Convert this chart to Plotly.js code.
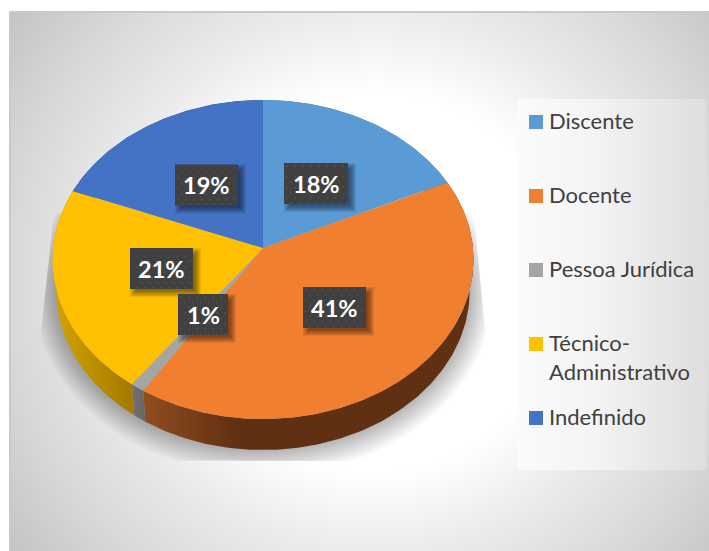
<!DOCTYPE html>
<html>
<head>
<meta charset="utf-8">
<script src="https://cdn.plot.ly/plotly-3.0.1.min.js"></script>
<style>
  html, body { margin: 0; padding: 0; background: #fff; width: 709px; height: 551px; overflow: hidden; }
  #frame {
    position: absolute; left: 9px; top: 11px; width: 700px; height: 540px; box-sizing: border-box;
    border-left: 2px solid #c9c9c9; border-top: 2px solid #c9c9c9;
    background: radial-gradient(circle farthest-corner at 52% 50%, #ffffff 42%, #ebebeb 60%, #d8d8d8 81%, #c4c4c4 100%);
  }
  #legendPanel {
    position: absolute; left: 517px; top: 99px; width: 189px; height: 371px;
    background: linear-gradient(to right, #fbfbfb 0%, #f4f4f4 40%, #dedede 100%);
  }
  #chart { position: absolute; left: 0; top: 0; width: 709px; height: 551px; }
</style>
</head>
<body>
<div id="frame"></div>
<div id="legendPanel"></div>
<div id="chart"></div>
<script>
// Share of each group, in percent, clockwise from twelve o'clock
const categories = ['Discente', 'Docente', 'Pessoa Jurídica', 'Técnico-Administrativo', 'Indefinido'];
const shares = [18, 41, 1, 21, 19];
const legendLabels = ['Discente', 'Docente', 'Pessoa Jurídica', 'Técnico-<br>Administrativo', 'Indefinido'];
const topColors = ['#5B9BD5', '#F07F30', '#A5A5A5', '#FFC000', '#4472C4'];
const wallColors = [
  ['#3c6d99', '#3c6d99'],
  ['#8f4c1f', '#5f3012'],
  ['#727272', '#666666'],
  ['#d0a000', '#a47a00'],
  ['#2f5090', '#2f5090']
];
const wallStops = [[0, 709], [146, 240], [130, 146], [60, 132], [0, 709]];

// Disc geometry in a perspective view, in plot units (one unit is one pixel)
const disc = { cx: 263, cy: 248, rx: 210, ry: 158.7, persp: 0.0721, depth: 31, taper: 0.018 };

// Projects a point of the disc: angle in degrees, level 0 = top face, 1 = bottom
function project(deg, level, grow) {
  const th = deg * Math.PI / 180, extra = grow || 0;
  const u = Math.sin(th), t = -Math.cos(th), w = 1 - disc.persp * t;
  return [
    disc.cx + (disc.rx + extra) * u / w * (1 - disc.taper * level),
    disc.cy + (disc.ry + extra) * t / w + disc.depth * level
  ];
}
function arc(a0, a1, level, grow) {
  const pts = [], n = Math.max(2, Math.ceil(Math.abs(a1 - a0)));
  for (let i = 0; i <= n; i++) pts.push(project(a0 + (a1 - a0) * i / n, level, grow));
  return pts;
}
const toXY = pts => ({ x: pts.map(p => p[0]), y: pts.map(p => p[1]) });

const total = shares.reduce((a, b) => a + b, 0);
let running = 0;
const spans = shares.map(v => {
  const s = [running / total * 360, (running + v) / total * 360];
  running += v;
  return s;
});

const traces = [];

// Soft cast shadow, clipped to a trapezoid around the lower part of the disc
function clipShadow(p) {
  const y = Math.min(461, Math.max(213, p[1]));
  const left = 52 - (y - 225) * 14 / 135, right = 474 + (y - 213) * 14 / 144;
  return [Math.min(right, Math.max(left, p[0])), y];
}
for (let d = 24; d >= 1; d -= 1) {
  traces.push(Object.assign(toXY(arc(0, 360, 1, d).map(clipShadow)), {
    type: 'scatter', mode: 'lines', fill: 'toself', line: { width: 0 },
    fillcolor: 'rgba(0,0,0,0.0125)', hoverinfo: 'skip', showlegend: false
  }));
}

// Side walls, then the top face of every slice
spans.forEach((s, i) => {
  const pts = arc(s[0], s[1], 0).concat(arc(s[1], s[0], 1));
  traces.push(Object.assign(toXY(pts), {
    type: 'scatter', mode: 'lines', fill: 'toself', line: { width: 0 },
    fillgradient: {
      type: 'horizontal', start: wallStops[i][0], stop: wallStops[i][1],
      colorscale: [[0, wallColors[i][0]], [1, wallColors[i][1]]]
    },
    hoverinfo: 'skip', showlegend: false
  }));
});
spans.forEach((s, i) => {
  const pts = [[disc.cx, disc.cy]].concat(arc(s[0], s[1], 0));
  pts.push([disc.cx, disc.cy]);
  traces.push(Object.assign(toXY(pts), {
    type: 'scatter', mode: 'lines', fill: 'toself', line: { width: 0 },
    fillcolor: topColors[i], name: categories[i], text: shares[i] + '%',
    hoverinfo: 'name+text', showlegend: false
  }));
});

// Percentage plates: centre and size of each dark box
const plateCentres = [[316, 183.5], [334.5, 307.5], [203, 314.5], [161.5, 268.5], [206.5, 185]];
const plateWidths = [64, 63, 50, 63, 63];
const plateHeight = 41;
function rects(grow, dx, dy) {
  const x = [], y = [];
  plateCentres.forEach((c, i) => {
    const l = c[0] - plateWidths[i] / 2 - grow + dx, r = c[0] + plateWidths[i] / 2 + grow + dx;
    const t = c[1] - plateHeight / 2 - grow + dy, b = c[1] + plateHeight / 2 + grow + dy;
    x.push(l, r, r, l, l, null);
    y.push(t, t, b, b, t, null);
  });
  return { x, y };
}
for (let g = 4; g >= -2; g--) {
  traces.push(Object.assign(rects(g, 4, 4), {
    type: 'scatter', mode: 'lines', fill: 'toself', line: { width: 0 },
    fillcolor: 'rgba(0,0,0,0.08)', hoverinfo: 'skip', showlegend: false
  }));
}
traces.push(Object.assign(rects(0, 0, 0), {
  type: 'scatter', mode: 'lines', fill: 'toself', line: { width: 0 },
  fillcolor: '#404040', hoverinfo: 'skip', showlegend: false
}));

// Dotted texture on the plates
const dotX = [], dotY = [];
plateCentres.forEach((c, i) => {
  const l = c[0] - plateWidths[i] / 2, t = c[1] - plateHeight / 2;
  for (let row = 0; row * 5.3 + 3 < plateHeight; row++) {
    for (let col = 0; col * 8 + 3 + (row % 2) * 4 < plateWidths[i]; col++) {
      dotX.push(l + col * 8 + 3 + (row % 2) * 4);
      dotY.push(t + row * 5.3 + 3);
    }
  }
});
traces.push({
  type: 'scatter', mode: 'markers', x: dotX, y: dotY,
  marker: { size: 2, color: '#505050', line: { width: 0 } },
  hoverinfo: 'skip', showlegend: false
});

// Legend keys
const legendRows = [122, 196, 270, 344, 418];
traces.push({
  type: 'scatter', mode: 'markers', x: legendRows.map(() => 536), y: legendRows,
  marker: { symbol: 'square', size: 14, color: topColors, line: { width: 0 } },
  hoverinfo: 'skip', showlegend: false
});

const annotations = [];
plateCentres.forEach((c, i) => annotations.push({
  x: c[0], y: c[1], xref: 'x', yref: 'y', showarrow: false,
  text: shares[i] + '%', font: { family: 'Lato, sans-serif', size: 23.5, color: '#ffffff', weight: 700 }
}));
legendLabels.forEach((label, i) => annotations.push({
  x: 547, y: legendRows[i] - 2 + (i === 3 ? 15 : 0), xref: 'x', yref: 'y', showarrow: false,
  xanchor: 'left', yanchor: 'middle', align: 'left',
  text: label, font: { family: 'Lato, sans-serif', size: 22, color: '#404040' }
}));

Plotly.newPlot('chart', traces, {
  width: 709, height: 551,
  margin: { l: 0, r: 0, t: 0, b: 0 },
  paper_bgcolor: 'rgba(0,0,0,0)', plot_bgcolor: 'rgba(0,0,0,0)',
  xaxis: { range: [0, 709], visible: false, fixedrange: true },
  yaxis: { range: [551, 0], visible: false, fixedrange: true },
  showlegend: false,
  annotations: annotations
}, { displayModeBar: false, responsive: false });
</script>
</body>
</html>
